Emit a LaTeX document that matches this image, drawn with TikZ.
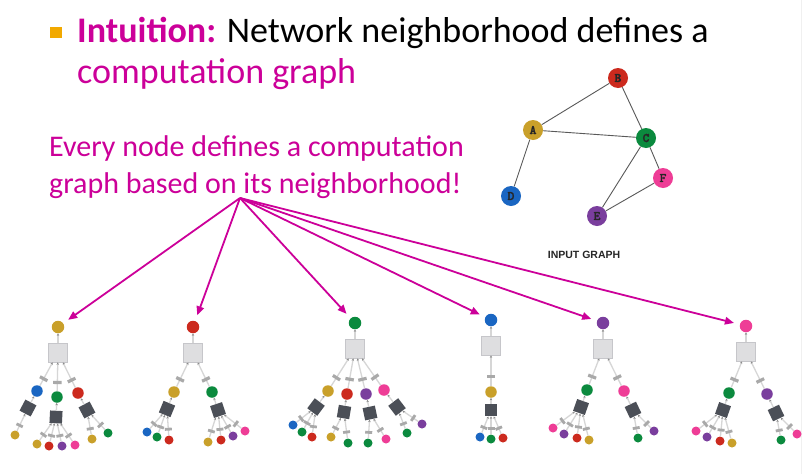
\documentclass[tikz,border=0pt]{standalone}
\usepackage{fontspec}
\setmainfont{Carlito}
\newfontfamily\capfont{Liberation Sans}
\newfontfamily\letterfont[FakeBold=2]{lmmonolt10-bold.otf}
\usetikzlibrary{arrows.meta}

\definecolor{mag}{HTML}{CC0099}
\definecolor{bullet}{HTML}{F2A900}
\definecolor{cA}{HTML}{C9A02A}
\definecolor{cB}{HTML}{CC2A1E}
\definecolor{cC}{HTML}{0B8A3E}
\definecolor{cD}{HTML}{1A66C2}
\definecolor{cE}{HTML}{7A3E9D}
\definecolor{cF}{HTML}{EE3D96}
\definecolor{linegray}{HTML}{D6D6D6}
\definecolor{tipgray}{HTML}{8A8A8A}
\definecolor{bargray}{HTML}{A9A9A9}
\definecolor{boxfill}{HTML}{DEDEE0}
\definecolor{boxline}{HTML}{C6C6CA}
\definecolor{darksq}{HTML}{4B4F57}
\definecolor{textdark}{HTML}{262626}

% one child of a box: circle, its square and its leaves
\newcommand\branch[6]{%
  \node[lvl, fill=#3] (#2) at (#4) {};
  \draw[tline] (#2) -- node[bar, sloped, pos=0.3] {} (#1);
  \path (#2) -- (#5) node[sq, sloped, pos=1] (#2s) {};
  \draw[tline] (#2s) -- (#2);
  \foreach \x/\y/\c [count=\i] in {#6} {%
    \node[leaf, fill=\c] (#2l\i) at (\x,\y) {};
    \draw[tline] (#2l\i) -- node[lbar, sloped, pos=0.32] {} (#2s);
  }%
}

\begin{document}
\begin{tikzpicture}[x=1pt,y=-1pt,
  tline/.style={draw=linegray, line width=1.3pt, -{Stealth[length=2.4pt,width=2.4pt,color=tipgray]}},
  root/.style={circle, inner sep=0, minimum size=12.5pt},
  lvl/.style={circle, inner sep=0, minimum size=11.5pt},
  leaf/.style={circle, inner sep=0, minimum size=9pt},
  aggbox/.style={draw=boxline, fill=boxfill, line width=0.8pt, inner sep=0, minimum size=19pt},
  sq/.style={fill=darksq, inner sep=0, minimum size=12.5pt},
  bar/.style={fill=bargray, inner sep=0, minimum width=3.2pt, minimum height=8.5pt},
  lbar/.style={fill=bargray, inner sep=0, minimum width=2.8pt, minimum height=7pt},
  pointer/.style={draw=mag, line width=1.8pt, -{Triangle[length=9pt,width=7.5pt]}, shorten >=6pt},
  gnode/.style={circle, inner sep=0, minimum size=20pt, text=textdark, font={\letterfont\fontsize{13}{13}\selectfont}},
  gline/.style={draw=black!65, line width=0.9pt}]
	\useasboundingbox (0,0) rectangle (802,474);
	\fill[white] (0,0) rectangle (802,474);
	\draw[black!6] (801.5,0) -- (801.5,474);

	% heading
	\node[fill=bullet, minimum width=12pt, minimum height=11pt, inner sep=0] (dot) at (55.5,32) {};
	\node[anchor=base west, inner sep=0, font=\fontsize{36}{42}\selectfont] (head) at (77,42) {\textcolor{mag}{\bfseries Intuition:} Network neighborhood defines a};
	\node[anchor=base west, inner sep=0, font=\fontsize{36}{42}\selectfont, text=mag] (head2) at (77,83) {computation graph};
	\node[anchor=base west, inner sep=0, font=\fontsize{30}{36}\selectfont, text=mag] (note) at (49,156) {Every node defines a computation};
	\node[anchor=base west, inner sep=0, font=\fontsize{30}{36}\selectfont, text=mag] (note2) at (49,193) {graph based on its neighborhood!};

	% input graph
	\node[gnode, fill=cA] (A) at (533,130) {A};
	\node[gnode, fill=cB] (B) at (618,78) {B};
	\node[gnode, fill=cC] (C) at (646,138) {C};
	\node[gnode, fill=cD] (D) at (511,196) {D};
	\node[gnode, fill=cE] (E) at (597,216) {E};
	\node[gnode, fill=cF] (F) at (663,178) {F};
	\draw[gline] (A) -- (B) (A) -- (C) (B) -- (C) (A) -- (D) (C) -- (E) (C) -- (F) (E) -- (F);
	\node[text=textdark, font={\capfont\bfseries\fontsize{10.5}{12}\selectfont}] (cap) at (584,255) {INPUT GRAPH};

	% roots and their boxes
	\foreach \n/\x/\y/\c in {1/58/327/cA, 2/193/327/cB, 3/355/323/cC, 4/491/320/cD, 5/603/323/cE, 6/746/326/cF} {
		\node[root, fill=\c] (r\n) at (\x,\y) {};
		\node[aggbox] (b\n) at (\x,\y+25.5) {};
		\draw[tline] (b\n) -- (r\n);
	}

	% computation graphs
	\branch{b1}{t1d}{cD}{37,391}{28,408}{15/435/cA}
	\branch{b1}{t1c}{cC}{57,397}{56,417}{37/444/cA, 49/446/cB, 62/446/cE, 75/445/cF}
	\branch{b1}{t1b}{cB}{78,393}{87,410}{92/439/cA, 108/433/cC}
	\branch{b2}{t2a}{cA}{174,392}{167,409}{147/432/cD, 157/437/cC, 169/440/cB}
	\branch{b2}{t2c}{cC}{212,392}{218,410}{208/442/cA, 221/440/cB, 233/436/cE, 245/431/cF}
	\branch{b3}{t3a}{cA}{328,391}{316,407}{293/425/cD, 302/432/cC, 312/437/cB}
	\branch{b3}{t3b}{cB}{347,394}{344,412}{331/437/cA, 348/443/cC}
	\branch{b3}{t3e}{cE}{366,394}{370,413}{368/443/cC, 386/439/cF}
	\branch{b3}{t3f}{cF}{384,390}{397,407}{407/433/cC, 422/424/cE}
	\branch{b4}{t4a}{cA}{491,392}{491,410}{480/437/cD, 491/439/cC, 503/438/cB}
	\branch{b5}{t5c}{cC}{587,390}{581,407}{553/428/cF, 564/434/cE, 577/438/cB, 589/440/cA}
	\branch{b5}{t5f}{cF}{624,391}{633,410}{638/438/cC, 654/431/cE}
	\branch{b6}{t6c}{cC}{729,393}{723,410}{696/431/cF, 707/437/cE, 720/441/cB, 732/443/cA}
	\branch{b6}{t6e}{cE}{767,394}{776,413}{781/440/cC, 797/434/cF}

	% arrows to the roots
	\coordinate (src) at (240,198);
	\foreach \n in {1,...,6}
		\draw[pointer] (src) -- (r\n);
\end{tikzpicture}
\end{document}
